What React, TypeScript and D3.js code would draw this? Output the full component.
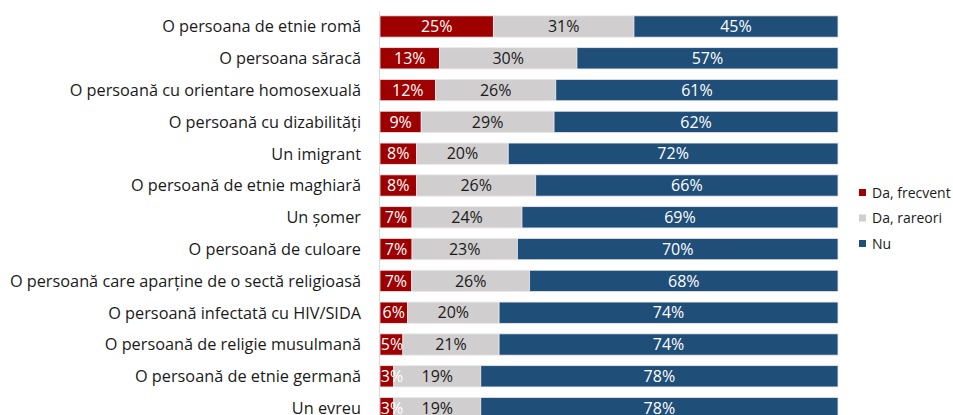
import React from "react";
import * as d3 from "d3";

const categories = [
  "O persoana de etnie romă",
  "O persoana săracă",
  "O persoană cu orientare homosexuală",
  "O persoană cu dizabilități",
  "Un imigrant",
  "O persoană de etnie maghiară",
  "Un șomer",
  "O persoană de culoare",
  "O persoană care aparține de o sectă religioasă",
  "O persoană infectată cu HIV/SIDA",
  "O persoană de religie musulmană",
  "O persoană de etnie germană",
  "Un evreu",
];
const daFrecvent = [25, 13, 12, 9, 8, 8, 7, 7, 7, 6, 5, 3, 3];
const daRareori = [31, 30, 26, 29, 20, 26, 24, 23, 26, 20, 21, 19, 19];
const nu = [45, 57, 61, 62, 72, 66, 69, 70, 68, 74, 74, 78, 78];
const seriesNames = ["Da, frecvent", "Da, rareori", "Nu"];
const seriesColors = ["#9E0000", "#D0CECE", "#1F4E79"];
const labelColors = ["#FFFFFF", "#1A1A1A", "#FFFFFF"];

export default function App() {
  const width = 953;
  const height = 415;
  const x0 = 380;
  const x1 = 838;
  const rows = categories.map((c, i) => ({
    cat: c,
    v0: daFrecvent[i],
    v1: daRareori[i],
    v2: nu[i],
  }));
  const stack = d3
    .stack<any>()
    .keys(["v0", "v1", "v2"])
    .offset(d3.stackOffsetExpand);
  const stacked = stack(rows);
  const x = d3.scaleLinear().domain([0, 1]).range([x0, x1]);
  const y = d3
    .scaleBand()
    .domain(categories)
    .range([10.6, 10.6 + 31.8 * 13])
    .paddingInner(0.33)
    .paddingOuter(0.165);
  const raw = [daFrecvent, daRareori, nu];
  const font = "'Open Sans', sans-serif";

  return (
    <svg
      width={width}
      height={height}
      style={{ position: "absolute", left: 0, top: 0, background: "#fff" }}
    >
      <g>
        {stacked.map((s, si) =>
          s.map((d, i) => {
            const yy = y(categories[i])!;
            const bw = x(d[1]) - x(d[0]);
            return (
              <g key={`${si}-${i}`}>
                <rect
                  x={x(d[0])}
                  y={yy}
                  width={bw}
                  height={y.bandwidth()}
                  fill={seriesColors[si]}
                  stroke="#E8E8EE"
                  strokeWidth={0.8}
                />
              </g>
            );
          })
        )}
        {stacked.map((s, si) =>
          s.map((d, i) => {
            const yy = y(categories[i])!;
            const cx = Math.max((x(d[0]) + x(d[1])) / 2, x0 + 12);
            return (
              <text
                key={`t${si}-${i}`}
                x={cx}
                y={yy + y.bandwidth() / 2}
                dy="0.36em"
                textAnchor="middle"
                fill={labelColors[si]}
                fontFamily={font}
                fontSize={16}
              >
                {raw[si][i]}%
              </text>
            );
          })
        )}
      </g>
      <line x1={379.5} x2={379.5} y1={11} y2={height} stroke="#D9D9D9" strokeWidth={1} />
      {categories.map((c) => (
        <text
          key={c}
          x={361}
          y={y(c)! + y.bandwidth() / 2}
          dy="0.36em"
          textAnchor="end"
          fill="#1A1A1A"
          fontFamily={font}
          fontSize={16.3}
        >
          {c}
        </text>
      ))}
      {seriesNames.map((n, i) => (
        <g key={n} transform={`translate(859, ${189 + i * 25.5})`}>
          <rect width={7} height={7} fill={seriesColors[i]} />
          <text
            x={13}
            y={3.5}
            dy="0.36em"
            fill="#1A1A1A"
            fontFamily={font}
            fontSize={14}
          >
            {n}
          </text>
        </g>
      ))}
    </svg>
  );
}
